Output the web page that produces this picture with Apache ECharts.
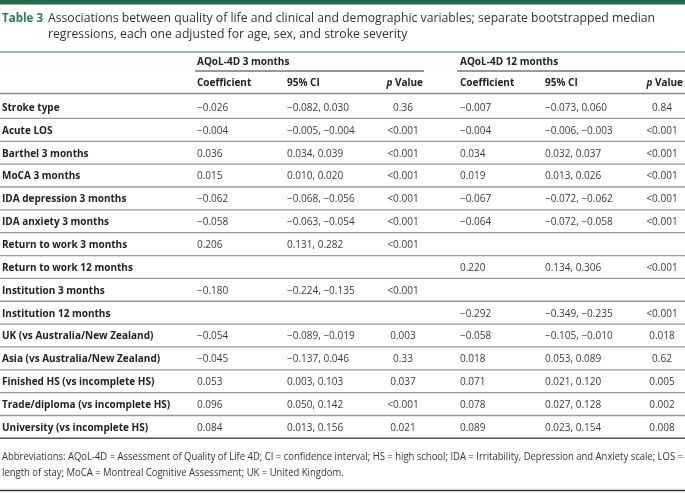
<!DOCTYPE html>
<html><head><meta charset="utf-8">
<script src="https://cdn.jsdelivr.net/npm/echarts@6/dist/echarts.min.js"></script>
<style>html,body{margin:0;padding:0;background:#fff}#c{width:685px;height:495px}</style>
</head><body><div id="c"></div>
<script>
const tableNo = 'Table 3';
const titleLines = [
  'Associations between quality of life and clinical and demographic variables; separate bootstrapped median',
  'regressions, each one adjusted for age, sex, and stroke severity'
];
const groupHeaders = ['AQoL-4D 3 months', 'AQoL-4D 12 months'];
const colHeaders = ['Coefficient', '95% CI', '{i|p} Value', 'Coefficient', '95% CI', '{i|p} Value'];
const rowLabels = [
  'Stroke type', 'Acute LOS', 'Barthel 3 months', 'MoCA 3 months', 'IDA depression 3 months',
  'IDA anxiety 3 months', 'Return to work 3 months', 'Return to work 12 months',
  'Institution 3 months', 'Institution 12 months', 'UK (vs Australia/New Zealand)',
  'Asia (vs Australia/New Zealand)', 'Finished HS (vs incomplete HS)',
  'Trade/diploma (vs incomplete HS)', 'University (vs incomplete HS)'
];
const coef3 = ['−0.026','−0.004','0.036','0.015','−0.062','−0.058','0.206','','−0.180','','−0.054','−0.045','0.053','0.096','0.084'];
const ci3 = ['−0.082, 0.030','−0.005, −0.004','0.034, 0.039','0.010, 0.020','−0.068, −0.056','−0.063, −0.054','0.131, 0.282','','−0.224, −0.135','','−0.089, −0.019','−0.137, 0.046','0.003, 0.103','0.050, 0.142','0.013, 0.156'];
const p3 = ['0.36','<0.001','<0.001','<0.001','<0.001','<0.001','<0.001','','<0.001','','0.003','0.33','0.037','<0.001','0.021'];
const coef12 = ['−0.007','−0.004','0.034','0.019','−0.067','−0.064','','0.220','','−0.292','−0.058','0.018','0.071','0.078','0.089'];
const ci12 = ['−0.073, 0.060','−0.006, −0.003','0.032, 0.037','0.013, 0.026','−0.072, −0.062','−0.072, −0.058','','0.134, 0.306','','−0.349, −0.235','−0.105, −0.010','0.053, 0.089','0.021, 0.120','0.027, 0.128','0.023, 0.154'];
const p12 = ['0.84','<0.001','<0.001','<0.001','<0.001','<0.001','','<0.001','','<0.001','0.018','0.62','0.005','0.002','0.008'];
const abbreviations = [
  'Abbreviations: AQoL-4D = Assessment of Quality of Life 4D; CI = confidence interval; HS = high school; IDA = Irritability, Depression and Anxiety scale; LOS =',
  'length of stay; MoCA = Montreal Cognitive Assessment; UK = United Kingdom.'
];

// layout (not data)
const FONT = '"Open Sans", "Noto Sans", sans-serif';
const W = 685;
const colX = [197, 287, 403, 460, 545, 662];
const colAlign = ['left', 'left', 'center', 'left', 'left', 'center'];
const headRight = [null, null, 423, null, null, 683];
const rowTop = 95.6, rowH = 22.85;
const GREEN = '#1f6b4c';

function measure(text, font) {
  const ctx = document.createElement('canvas').getContext('2d');
  ctx.font = font; return ctx.measureText(text).width;
}
const titleFont = '12.5px "Open Sans"';
const titleScale = 607 / measure(titleLines[0], titleFont);
const tagFont = 'bold 12.5px "Open Sans"';
const tagScale = 41 / measure(tableNo, tagFont);
const abbrFont = '11px "Open Sans"';
const abbrScale = 681 / measure(abbreviations[0], abbrFont);

const cols = [coef3, ci3, p3, coef12, ci12, p12];
const chart = echarts.init(document.getElementById('c'), null, {renderer: 'canvas'});
const rowsBottom = rowTop + rowH * rowLabels.length;

const graphics = [
  {type: 'rect', shape: {x: 0, y: 0, width: W, height: 4.5}, style: {fill: GREEN}},
  {type: 'text', x: 2, y: 18, scaleX: tagScale, style: {text: tableNo, font: tagFont, fill: '#2a7a55', verticalAlign: 'middle'}},
  {type: 'text', x: 48, y: 18, scaleX: titleScale, style: {text: titleLines[0], font: titleFont, fill: '#333', verticalAlign: 'middle'}},
  {type: 'text', x: 48, y: 34.5, scaleX: titleScale, style: {text: titleLines[1], font: titleFont, fill: '#333', verticalAlign: 'middle'}},
  {type: 'line', shape: {x1: 0, y1: 52, x2: W, y2: 52}, style: {stroke: '#7fa898', lineWidth: 1.5}},
  {type: 'line', shape: {x1: 195, y1: 71, x2: 424, y2: 71}, style: {stroke: '#333', lineWidth: 1}},
  {type: 'line', shape: {x1: 457, y1: 71, x2: W, y2: 71}, style: {stroke: '#333', lineWidth: 1}},
  {type: 'line', shape: {x1: 0, y1: 93.5, x2: W, y2: 93.5}, style: {stroke: '#8a8a8a', lineWidth: 1.3}},
  {type: 'line', shape: {x1: 0, y1: rowsBottom, x2: W, y2: rowsBottom}, style: {stroke: '#555', lineWidth: 1.5}},
  {type: 'text', x: 2, y: 456.5, scaleX: abbrScale, style: {text: abbreviations[0], font: abbrFont, fill: '#333', verticalAlign: 'middle'}},
  {type: 'text', x: 2, y: 473, scaleX: abbrScale, style: {text: abbreviations[1], font: abbrFont, fill: '#333', verticalAlign: 'middle'}},
  {type: 'line', shape: {x1: 0, y1: 490.5, x2: W, y2: 490.5}, style: {stroke: '#333', lineWidth: 1.5}},
  {type: 'text', x: colX[0], y: 62, style: {text: groupHeaders[0], font: 'bold 10px ' + FONT, fill: '#222', verticalAlign: 'middle'}},
  {type: 'text', x: colX[3], y: 62, style: {text: groupHeaders[1], font: 'bold 10px ' + FONT, fill: '#222', verticalAlign: 'middle'}}
];
colHeaders.forEach((h, k) => {
  const right = headRight[k] != null;
  graphics.push({type: 'text', x: right ? headRight[k] : colX[k], y: 83.5,
    style: {text: h, font: 'bold 10px ' + FONT, fill: '#222', verticalAlign: 'middle', align: right ? 'right' : 'left',
      rich: {i: {fontStyle: 'italic', fontWeight: 'bold', fontSize: 10, fontFamily: FONT, fill: '#222'}}}});
});

chart.setOption({
  animation: false,
  grid: {left: 0, right: 0, top: rowTop, height: rowH * rowLabels.length},
  xAxis: {type: 'value', min: 0, max: W, show: false},
  yAxis: {type: 'category', data: rowLabels, inverse: true, show: false},
  series: [{
    type: 'custom',
    encode: {x: 0, y: 1},
    data: rowLabels.map((_, i) => [0, i]),
    renderItem(params, api) {
      const i = api.value(1);
      const c = api.coord([0, i]);
      const bh = api.size([0, 1])[1];
      const cy = c[1] + 1;
      const children = [{type: 'text', style: {x: api.coord([2, i])[0], y: cy, text: rowLabels[i], font: 'bold 10px ' + FONT, fill: '#222', verticalAlign: 'middle'}}];
      cols.forEach((arr, k) => {
        if (!arr[i]) return;
        children.push({type: 'text', style: {x: api.coord([colX[k], i])[0], y: cy, text: arr[i], font: '10px ' + FONT, fill: '#3a3a3a', verticalAlign: 'middle', align: colAlign[k]}});
      });
      if (i < rowLabels.length - 1) {
        const yb = c[1] + bh / 2;
        children.push({type: 'line', shape: {x1: 0, y1: yb, x2: W, y2: yb}, style: {stroke: '#9a9a9a', lineWidth: 1.3}});
      }
      return {type: 'group', children};
    }
  }],
  graphic: graphics
});
</script></body></html>
